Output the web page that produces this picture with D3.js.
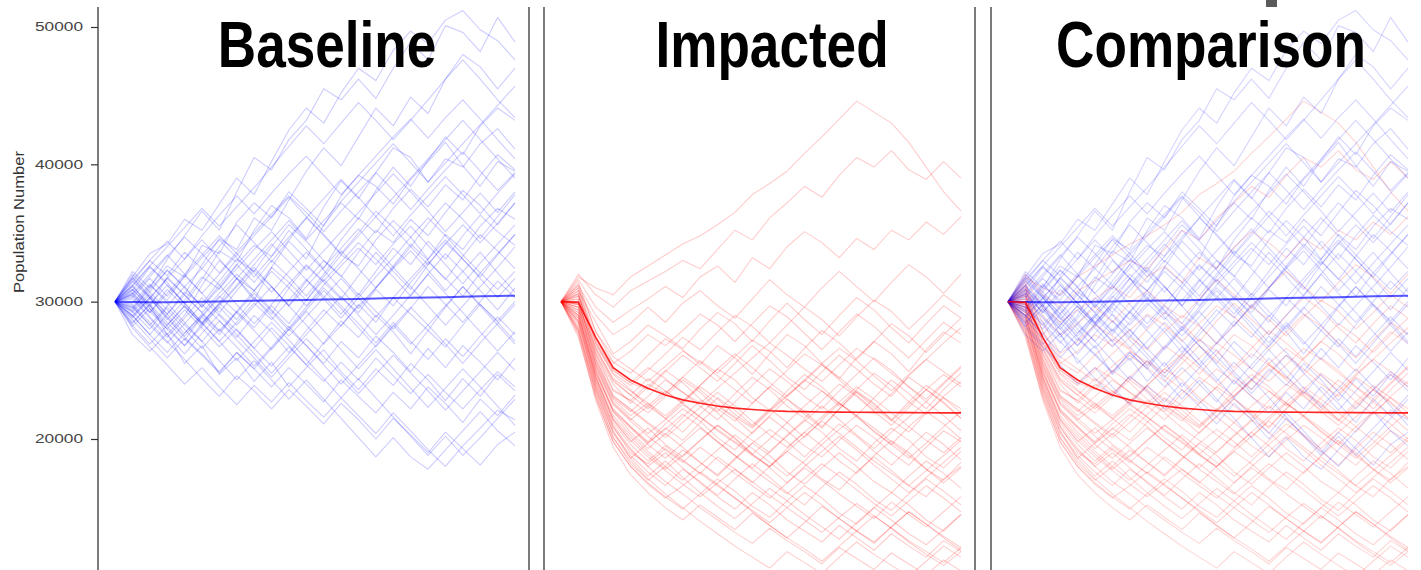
<!DOCTYPE html>
<html>
<head>
<meta charset="utf-8">
<script src="https://cdn.jsdelivr.net/npm/d3@7"></script>
<style>
  html, body { margin: 0; padding: 0; background: #fff; }
  svg { display: block; }
</style>
</head>
<body>
<svg id="chart" width="1421" height="570"></svg>
<script>
// ---- data ---------------------------------------------------------------
const panelTitles = ["Baseline", "Impacted", "Comparison"];
const yTicks = [20000, 30000, 40000, 50000];
const yLabel = "Population Number";
const years = d3.range(0, 24);

// Mean trajectories (individuals)
const baselineMean = [30000, 29980, 29960, 29960, 29980, 30000, 30020, 30040, 30060, 30080, 30100, 30130,
                      30160, 30180, 30200, 30230, 30260, 30280, 30310, 30330, 30360, 30390, 30410, 30430];
const impactedMean = [30000, 29950, 27400, 25200, 24300, 23700, 23200, 22850, 22600, 22400, 22250, 22150,
                      22060, 22010, 21990, 21970, 21960, 21950, 21940, 21930, 21920, 21910, 21900, 21900];

// Individual simulation runs, in hundreds of individuals
const baselineRuns = [
  [300,318,335,342,360,352,371,390,378,402,425,441,430,452,470,461,483,497,488,505,512,498,490,476],
  [300,322,310,331,348,366,352,380,405,396,418,432,455,447,462,448,470,489,476,501,496,482,507,489],
  [300,312,296,318,305,327,346,338,361,352,374,395,412,399,420,441,428,449,437,462,480,471,455,470],
  [300,285,298,276,290,312,330,317,301,325,344,331,356,372,360,381,398,384,403,420,407,428,441,432],
  [300,308,325,314,298,316,337,329,352,370,361,346,369,388,375,394,412,405,387,404,398,415,426,411],
  [300,294,311,326,318,341,335,358,372,361,380,368,355,377,392,384,371,389,402,416,399,384,402,395],
  [300,315,303,287,301,318,309,327,341,333,352,338,324,345,361,350,368,382,369,385,374,392,407,396],
  [300,290,276,291,307,298,315,331,322,340,356,344,330,318,336,352,343,360,348,365,381,370,356,372],
  [300,305,292,309,296,284,299,317,308,325,314,301,318,334,326,345,359,347,331,349,338,355,368,360],
  [300,296,312,301,319,306,292,308,323,311,297,315,330,319,305,322,339,327,344,331,348,363,351,341],
  [300,282,295,280,268,284,299,287,303,291,310,326,314,302,319,336,322,309,327,343,331,318,334,349],
  [300,311,298,285,272,289,276,293,281,297,284,301,316,303,292,309,297,314,329,317,304,321,309,322],
  [300,293,280,296,283,271,286,274,290,278,263,279,294,282,298,285,303,291,279,296,311,298,286,300],
  [300,304,289,276,262,277,291,279,266,281,268,254,270,286,274,290,278,262,279,267,283,298,285,271],
  [300,287,273,259,273,261,248,263,251,266,280,268,255,271,259,275,263,249,266,252,268,256,243,259],
  [300,276,264,277,255,268,247,259,242,256,238,252,265,249,236,251,239,255,243,228,244,231,247,235],
  [300,290,303,288,274,262,249,263,251,238,252,240,227,243,231,219,234,222,238,226,212,229,217,232],
  [300,298,285,271,258,244,231,246,235,222,236,224,211,226,214,200,215,203,190,205,193,181,196,205],
  [300,281,267,254,240,252,238,225,239,227,241,228,216,230,217,204,219,206,192,180,195,208,221,214],
  [300,307,293,280,294,281,267,280,266,253,267,254,242,256,243,259,246,233,247,234,222,236,249,238],
  [300,320,307,323,311,296,312,327,314,330,318,304,320,337,324,310,326,342,330,316,333,349,337,324],
  [300,314,330,319,336,324,340,356,343,329,345,361,349,335,350,366,354,340,357,372,360,346,362,378],
  [300,309,297,283,297,284,271,285,299,287,301,316,304,291,306,293,280,295,311,298,285,300,315,303],
  [300,296,283,297,311,324,312,298,284,298,313,327,315,329,343,331,318,304,320,335,322,308,294,310],
  [300,318,304,291,305,292,306,320,308,294,281,296,310,297,284,270,285,271,258,273,260,275,289,276],
  [300,288,302,317,305,292,279,293,308,322,310,297,312,326,339,327,342,355,341,327,313,328,342,356],
  [300,311,326,312,299,285,298,312,327,342,329,316,302,288,303,318,332,347,361,348,334,321,335,349],
  [300,292,305,291,277,290,304,292,279,265,280,294,308,295,281,267,282,296,283,269,255,270,284,298],
  [300,305,318,333,347,335,321,336,350,364,377,365,351,366,380,394,381,367,382,396,409,395,381,394],
  [300,297,283,270,284,298,286,272,259,245,259,273,260,247,233,247,261,248,235,221,235,249,263,250],
  [300,316,330,344,331,348,363,377,364,379,393,406,392,378,392,406,420,433,419,434,447,433,418,404],
  [300,284,298,312,299,285,271,257,271,285,272,258,244,230,244,230,216,202,188,202,188,201,215,229],
  [300,303,317,304,318,332,345,332,318,333,347,361,375,389,376,362,348,363,377,391,378,364,379,393],
  [300,295,309,323,310,296,310,324,338,351,337,323,337,351,365,379,393,380,366,351,365,379,365,380],
  [300,309,295,282,268,282,296,283,297,311,297,283,269,283,297,310,324,337,323,308,322,336,321,307],
  [300,290,276,263,277,291,278,292,306,293,279,293,279,265,251,265,251,237,223,237,251,238,224,210],
  [300,312,326,340,354,368,355,369,383,398,413,428,415,430,445,432,418,432,447,462,476,462,447,434],
  [300,293,307,294,280,266,280,267,253,267,282,268,254,240,254,268,283,269,283,297,311,297,283,269],
  [300,306,292,306,320,334,348,335,321,307,322,336,323,309,295,310,325,340,327,342,356,343,357,372],
  [300,302,288,274,288,303,290,276,262,248,262,276,290,304,290,276,290,305,320,306,292,278,264,278],
  [300,283,269,283,297,283,297,311,325,311,297,311,325,339,353,339,325,311,297,283,297,311,325,340],
  [300,317,303,317,331,345,331,317,331,345,359,345,359,373,387,401,415,401,387,401,415,429,443,457],
  [300,299,313,299,285,271,257,243,257,243,229,243,229,215,201,187,201,187,178,192,206,220,206,195],
  [300,306,320,334,320,306,320,334,348,362,376,362,348,334,348,362,376,390,404,418,432,418,404,390],
  [300,289,303,289,275,289,303,317,303,289,275,289,303,317,303,289,303,317,331,345,331,317,303,317]
];

const impactedRuns = [
  [300,318,310,305,318,326,334,342,348,356,365,378,386,395,408,420,433,446,438,430,416,398,380,366],
  [300,320,305,296,308,315,322,330,324,338,352,345,361,372,384,376,392,405,398,410,396,389,402,390],
  [300,316,296,285,294,302,311,303,318,326,314,332,324,340,351,343,332,346,338,352,345,358,349,362],
  [300,312,290,276,284,296,285,299,308,297,288,302,316,305,296,310,322,311,300,314,327,318,306,320],
  [300,308,285,262,271,283,275,266,280,292,284,271,286,299,287,276,290,303,294,281,270,284,297,288],
  [300,314,278,256,248,261,273,265,254,268,259,247,262,276,268,255,244,259,271,262,249,265,278,270],
  [300,305,272,250,241,236,249,261,252,242,255,268,257,245,236,249,261,251,240,231,246,258,249,240],
  [300,298,266,243,232,244,235,226,239,251,243,230,221,235,247,238,226,217,230,243,233,222,236,248],
  [300,302,260,235,228,219,231,243,234,222,213,226,238,229,218,208,222,235,226,214,205,219,230,222],
  [300,296,255,229,217,226,215,205,218,230,221,210,222,212,201,214,226,217,205,196,209,220,211,200],
  [300,290,248,221,209,198,211,222,213,201,192,205,216,206,195,187,199,210,201,190,181,194,206,198],
  [300,306,262,240,226,238,250,241,229,220,233,245,236,224,215,228,240,231,220,210,223,236,227,215],
  [300,292,245,214,198,208,196,187,199,210,201,189,180,193,205,195,184,175,188,199,190,178,170,183],
  [300,286,240,209,190,182,193,184,175,187,178,168,180,191,182,171,163,176,187,177,166,158,171,180],
  [300,310,270,247,236,224,215,227,238,229,218,209,221,232,243,235,224,236,248,239,227,218,231,242],
  [300,300,258,231,222,212,203,216,228,219,208,199,190,203,214,205,193,184,197,208,199,187,179,191],
  [300,280,236,205,188,176,166,178,169,159,171,182,172,161,152,165,176,167,156,148,160,171,162,152],
  [300,294,250,220,205,193,204,194,183,174,186,197,188,176,167,179,190,180,169,161,173,184,175,164],
  [300,274,230,198,180,168,158,149,160,171,162,151,143,155,166,157,146,138,150,161,152,141,133,145],
  [300,288,242,210,193,180,190,179,168,158,149,161,152,141,133,125,137,128,119,131,122,114,126,118],
  [300,304,268,248,239,250,262,274,265,278,290,282,270,283,296,287,275,289,301,293,280,292,305,296],
  [300,298,262,236,228,240,233,245,257,248,260,272,264,252,266,279,270,258,271,284,275,263,276,288],
  [300,284,238,206,186,197,208,199,212,224,215,204,217,229,220,209,222,234,225,214,227,239,230,219],
  [300,278,233,201,182,170,180,192,183,173,185,197,207,198,187,199,211,202,191,181,193,205,196,185],
  [300,276,228,194,174,161,150,141,152,143,134,146,137,128,139,151,142,133,124,136,147,138,129,121],
  [300,290,245,215,201,189,178,188,199,210,200,189,179,168,180,191,202,192,181,171,161,172,183,194],
  [300,300,256,230,220,231,243,234,224,214,227,239,251,242,231,222,235,247,259,250,238,227,240,252],
  [300,285,239,208,192,180,169,160,150,141,132,124,135,126,118,109,121,113,105,117,109,101,112,104],
  [300,296,252,225,213,202,192,183,194,185,175,166,157,168,179,170,160,151,142,154,145,136,147,158],
  [300,310,274,255,264,276,268,279,291,283,271,284,297,289,277,265,278,291,282,270,259,272,285,276],
  [300,282,236,204,186,173,184,172,161,151,142,153,164,155,145,136,127,139,150,141,131,123,134,145],
  [300,292,248,220,208,196,186,197,208,198,188,179,191,202,213,224,214,203,193,205,216,227,217,206],
  [300,304,264,242,232,222,233,245,236,225,216,208,220,231,242,254,245,234,223,213,225,236,247,238],
  [300,288,244,214,199,187,177,167,158,168,178,169,159,150,141,132,143,153,144,135,126,118,110,121],
  [300,298,254,227,215,204,214,225,216,206,197,188,180,191,202,213,204,194,184,175,166,177,188,199],
  [300,306,266,244,235,226,217,228,239,251,262,252,241,231,243,255,266,257,246,235,247,258,270,281],
  [300,280,234,201,184,171,160,150,140,131,122,114,106,118,110,102,114,125,116,108,100,111,122,114],
  [300,294,250,222,209,197,207,218,209,198,188,178,169,160,171,182,173,163,153,144,155,166,157,147],
  [300,312,278,260,251,242,253,264,256,246,236,226,238,250,262,254,243,232,221,233,245,236,226,215],
  [300,286,242,212,196,184,195,185,175,166,157,148,139,150,161,152,142,133,125,136,147,138,128,119],
  [300,302,258,232,221,211,201,212,223,234,224,213,203,194,205,216,227,238,229,219,209,199,190,201],
  [300,278,231,198,180,167,157,166,176,167,157,147,137,128,120,111,122,133,144,135,125,116,108,118],
  [300,296,253,226,214,224,235,226,216,207,198,189,200,212,224,235,226,216,206,196,186,197,209,220],
  [300,290,246,217,203,191,180,170,181,192,203,193,183,173,184,196,207,217,208,198,188,178,168,179],
  [300,308,270,250,241,252,244,234,226,237,248,259,270,261,251,242,254,266,258,248,238,229,241,253]
];

// ---- layout -------------------------------------------------------------
const W = 1421, H = 570;
const panelLeft = [98, 544, 991];
const panelWidth = 431;
const plotTop = 7;
const BLUE = "#0000ff", RED = "#ff0000";

const svg = d3.select("#chart");
const y = d3.scaleLinear().domain([20000, 50000]).range([439, 27]);
const x = d3.scaleLinear().domain([0, 23]).range([17, 417]);

const toCounts = run => run.map(v => v * 100);
const line = d3.line().x((d, i) => x(years[i])).y(d => y(d));

function drawRuns(g, runs, color, opacity) {
  g.append("g")
    .selectAll("path")
    .data(runs.map(toCounts))
    .join("path")
    .attr("d", line)
    .attr("fill", "none")
    .attr("stroke", color)
    .attr("stroke-opacity", opacity)
    .attr("stroke-width", 1.1)
    .attr("stroke-linejoin", "round");
}

function drawMean(g, values, color, opacity, width) {
  g.append("path")
    .datum(values)
    .attr("d", line)
    .attr("fill", "none")
    .attr("stroke", color)
    .attr("stroke-opacity", opacity)
    .attr("stroke-width", width);
}

panelTitles.forEach((title, i) => {
  const g = svg.append("g").attr("transform", `translate(${panelLeft[i]},0)`);

  if (i === 0) {
    drawRuns(g, baselineRuns, BLUE, 0.2);
    drawMean(g, baselineMean, BLUE, 0.65, 2);
  } else if (i === 1) {
    drawRuns(g, impactedRuns, RED, 0.2);
    drawMean(g, impactedMean, RED, 0.85, 1.6);
  } else {
    drawRuns(g, impactedRuns, RED, 0.17);
    drawRuns(g, baselineRuns, BLUE, 0.17);
    drawMean(g, baselineMean, BLUE, 0.65, 2);
    drawMean(g, impactedMean, RED, 0.85, 1.6);
  }

  // panel borders
  g.append("line").attr("x1", 0).attr("x2", 0).attr("y1", plotTop).attr("y2", H)
    .attr("stroke", "#444").attr("stroke-width", 1.4);
  g.append("line").attr("x1", panelWidth).attr("x2", panelWidth).attr("y1", plotTop).attr("y2", H)
    .attr("stroke", "#444").attr("stroke-width", 1.4);

  // panel title
  const titleX = [229, 228, 220][i];
  g.append("text")
    .attr("transform", `translate(${titleX},67) scale(0.83,1)`)
    .attr("text-anchor", "middle")
    .attr("font-family", "'Liberation Sans', Arial, sans-serif")
    .attr("font-weight", "bold")
    .attr("font-size", 64)
    .attr("fill", "#000")
    .text(title);
});

// y axis on the first panel
const axis = svg.append("g")
  .attr("transform", `translate(${panelLeft[0]},0)`)
  .call(d3.axisLeft(y).tickValues(yTicks).tickSize(7).tickPadding(8).tickFormat(d3.format("d")));
axis.select(".domain").remove();
axis.selectAll(".tick line").attr("stroke", "#333").attr("stroke-width", 1.2);
axis.selectAll(".tick text")
  .attr("font-family", "'Liberation Sans', Arial, sans-serif")
  .attr("font-size", 12)
  .attr("fill", "#444")
  .attr("textLength", 48)
  .attr("lengthAdjust", "spacingAndGlyphs");

svg.append("text")
  .attr("transform", "translate(24,222) rotate(-90)")
  .attr("text-anchor", "middle")
  .attr("font-family", "'Liberation Sans', Arial, sans-serif")
  .attr("font-size", 15)
  .attr("fill", "#333")
  .attr("textLength", 142)
  .attr("lengthAdjust", "spacingAndGlyphs")
  .text(yLabel);

// small marker at the top edge above the third title
svg.append("rect")
  .attr("x", 1266).attr("y", 0).attr("width", 11).attr("height", 7)
  .attr("fill", "#5a5a5a");
</script>
</body>
</html>
